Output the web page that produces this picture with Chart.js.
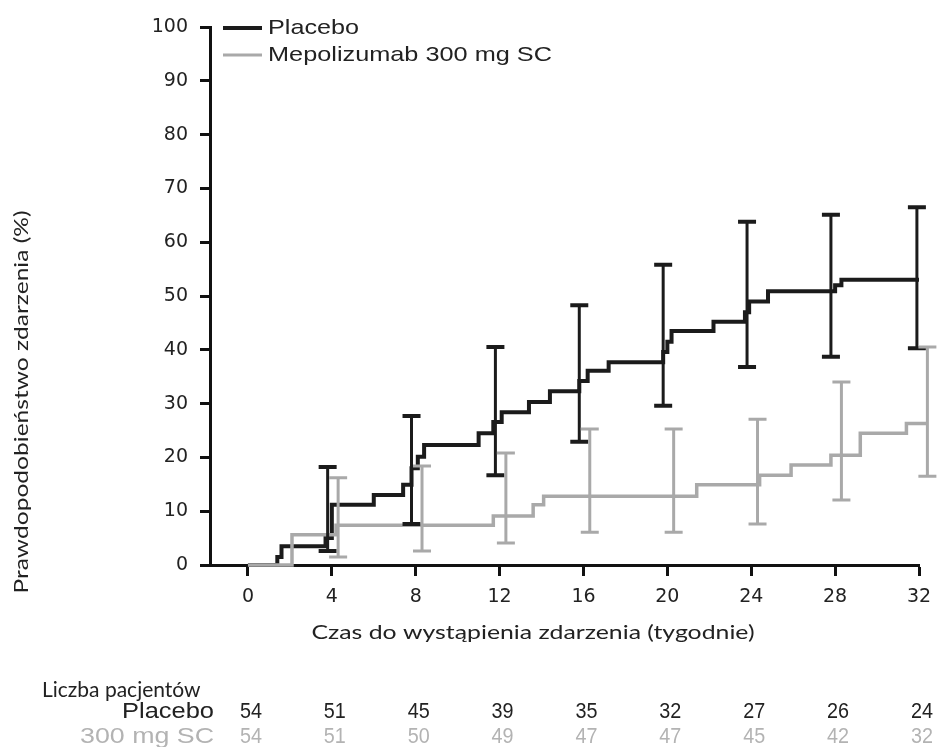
<!DOCTYPE html>
<html><head><meta charset="utf-8">
<script src="https://cdn.jsdelivr.net/npm/chart.js@4.4.0/dist/chart.umd.min.js"></script>
<style>html,body{margin:0;padding:0;background:#fff;}#wrap{width:937px;height:747px;}</style>
</head><body><div id="wrap"><canvas id="c" width="937" height="747"></canvas></div>
<script>
// ---- data ----
const placeboWeeks = [0,1.4,1.6,3.7,4.0,6.0,7.4,7.8,8.1,8.4,11.0,11.7,12.1,13.4,14.4,15.8,16.2,17.2,19.8,20.0,20.2,22.2,23.7,23.9,24.8,28.0,28.3,32.0];
const placeboRisk  = [0,1.5,3.5,5.0,11.2,13.0,14.9,18.0,20.1,22.3,24.5,26.6,28.4,30.3,32.3,34.2,36.1,37.7,39.6,41.5,43.5,45.2,47.0,49.0,50.9,52.0,53.0,53.0];
const mepoWeeks = [0,2.1,4.2,11.7,13.6,14.1,21.4,24.4,25.9,27.8,29.2,31.4,32.4];
const mepoRisk  = [0,5.6,7.4,9.1,11.2,12.8,14.9,16.7,18.6,20.4,24.5,26.3,26.3];
const placeboCIWeeks = [3.8,7.8,11.8,15.8,19.8,23.8,27.8,31.9];
const placeboCILow   = [2.6,7.6,16.7,22.9,29.6,36.8,38.7,40.3];
const placeboCIHigh  = [18.2,27.7,40.5,48.3,55.8,63.8,65.1,66.5];
const mepoCIWeeks = [4.3,8.3,12.3,16.3,20.3,24.3,28.3,32.4];
const mepoCILow   = [1.5,2.6,4.1,6.1,6.1,7.6,12.1,16.5];
const mepoCIHigh  = [16.2,18.4,20.8,25.3,25.3,27.1,34.0,40.5];
const xTickWeeks = [0,4,8,12,16,20,24,28,32];
const yTickValues = [0,10,20,30,40,50,60,70,80,90,100];
const atRiskPlacebo = [54,51,45,39,35,32,27,26,24];
const atRiskMepo    = [54,51,50,49,47,47,45,42,32];
const seriesNames = ['Placebo','Mepolizumab 300 mg SC'];
const rowLabels = ['Placebo','300 mg SC'];
const tableTitle = 'Liczba pacjentów';
const xTitle = 'Czas do wystąpienia zdarzenia (tygodnie)';
const yTitle = 'Prawdopodobieństwo zdarzenia (%)';

// ---- style ----
const BLACK = '#1b1b1b', GRAY = '#a9a9a9', TXT = '#222222', TXTGRAY = '#b3b3b3';
Chart.defaults.font.family = 'DejaVu Sans';

function fitText(ctx, text, x, y, font, color, targetW, align, rot){
  ctx.save();
  ctx.font = font; ctx.fillStyle = color; ctx.textBaseline = 'middle'; ctx.textAlign = align || 'left';
  const w = ctx.measureText(text).width;
  const s = targetW ? targetW / w : 1;
  ctx.translate(x, y);
  if (rot) ctx.rotate(rot);
  ctx.scale(s, 1);
  ctx.fillText(text, 0, 0);
  ctx.restore();
}

const overlay = {
  id: 'overlay',
  afterDatasetsDraw(chart){
    const ctx = chart.ctx, xs = chart.scales.x, ys = chart.scales.y;
    function bars(weeks, lo, hi, color, lw, capW, half){
      ctx.save();
      ctx.strokeStyle = color; ctx.lineCap = 'butt';
      for (let i = 0; i < weeks.length; i++){
        const x = xs.getPixelForValue(weeks[i]);
        const y1 = ys.getPixelForValue(lo[i]), y2 = ys.getPixelForValue(hi[i]);
        ctx.lineWidth = lw;
        ctx.beginPath(); ctx.moveTo(x, y1); ctx.lineTo(x, y2); ctx.stroke();
        ctx.lineWidth = capW;
        ctx.beginPath(); ctx.moveTo(x - half, y1); ctx.lineTo(x + half, y1);
        ctx.moveTo(x - half, y2); ctx.lineTo(x + half, y2); ctx.stroke();
      }
      ctx.restore();
    }
    bars(placeboCIWeeks, placeboCILow, placeboCIHigh, BLACK, 3, 4, 9);
    bars(mepoCIWeeks, mepoCILow, mepoCIHigh, GRAY, 3, 3, 9);
  },
  afterDraw(chart){
    const ctx = chart.ctx, xs = chart.scales.x;
    // legend
    ctx.save();
    ctx.lineWidth = 4; ctx.strokeStyle = BLACK;
    ctx.beginPath(); ctx.moveTo(223, 28); ctx.lineTo(262, 28); ctx.stroke();
    ctx.lineWidth = 3; ctx.strokeStyle = GRAY;
    ctx.beginPath(); ctx.moveTo(223, 55); ctx.lineTo(262, 55); ctx.stroke();
    ctx.restore();
    fitText(ctx, seriesNames[0], 268, 28, '21px "Liberation Sans"', TXT, 91, 'left');
    fitText(ctx, seriesNames[1], 268, 55, '21px "Liberation Sans"', TXT, 284, 'left');
    // axis titles
    fitText(ctx, xTitle, 533, 633, '20px Lato', TXT, 443, 'center');
    fitText(ctx, yTitle, 22, 402, '20px Lato', TXT, 383, 'center', -Math.PI/2);
    // at-risk table
    fitText(ctx, tableTitle, 42, 690, '21px Lato', TXT, 0, 'left');
    fitText(ctx, rowLabels[0], 214, 712, '22px "Liberation Sans"', TXT, 92, 'right');
    fitText(ctx, rowLabels[1], 214, 737, '22px "Liberation Sans"', TXTGRAY, 134, 'right');
    for (let i = 0; i < xTickWeeks.length; i++){
      const x = xs.getPixelForValue(xTickWeeks[i]) + 3;
      fitText(ctx, String(atRiskPlacebo[i]), x, 712, '22px "Liberation Sans"', TXT, 22, 'center');
      fitText(ctx, String(atRiskMepo[i]), x, 737, '22px "Liberation Sans"', TXTGRAY, 22, 'center');
    }
  }
};

new Chart(document.getElementById('c'), {
  type: 'line',
  data: {
    datasets: [
      { label: seriesNames[0], data: placeboWeeks.map((w, i) => ({x: w, y: placeboRisk[i]})),
        borderColor: BLACK, borderWidth: 4, stepped: true, pointRadius: 0, fill: false, order: 1, clip: false },
      { label: seriesNames[1], data: mepoWeeks.map((w, i) => ({x: w, y: mepoRisk[i]})),
        borderColor: GRAY, borderWidth: 3.5, stepped: true, pointRadius: 0, fill: false, order: 0, clip: false }
    ]
  },
  options: {
    responsive: false, animation: false, devicePixelRatio: 1,
    layout: { padding: { left: 0, top: 27, right: 18, bottom: 100 } },
    plugins: { legend: { display: false }, tooltip: { enabled: false } },
    scales: {
      x: {
        type: 'linear', min: -1.81, max: 32,
        afterBuildTicks: s => { s.ticks = xTickWeeks.map(v => ({value: v})); },
        ticks: { font: { size: 19 }, color: TXT, padding: 10, maxRotation: 0, autoSkip: false },
        grid: { display: true, drawOnChartArea: false, drawTicks: true, tickLength: 11, tickWidth: 3, tickColor: '#111' },
        border: { display: true, color: '#111', width: 3 },
        afterFit: s => { s.height = 82; s.paddingLeft = 0; s.paddingRight = 0; }
      },
      y: {
        type: 'linear', min: 0, max: 100,
        afterBuildTicks: s => { s.ticks = yTickValues.map(v => ({value: v})); },
        ticks: { font: { size: 19 }, color: TXT, padding: 12, autoSkip: false },
        grid: { display: true, drawOnChartArea: false, drawTicks: true, tickLength: 10, tickWidth: 3, tickColor: '#111' },
        border: { display: true, color: '#111', width: 3 },
        afterFit: s => { s.width = 210; }
      }
    }
  },
  plugins: [overlay]
});
</script>
</body></html>
